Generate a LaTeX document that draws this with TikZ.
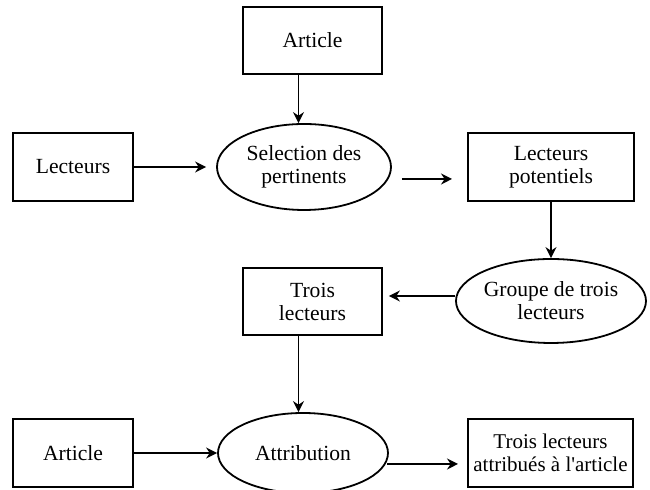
\documentclass[tikz,border=0pt]{standalone}
\usepackage{fontspec}
\setmainfont{Liberation Serif}
\usetikzlibrary{shapes.geometric,arrows.meta}

\tikzset{
    box/.style={draw, line width=0.9pt, rectangle, align=center, inner sep=0pt,
        minimum width=#1},
    box/.default=60pt,
    oval/.style={draw, line width=0.9pt, ellipse, align=center, inner sep=0pt},
    arr/.style={line width=0.85pt, -{Stealth[length=5.5pt,width=5.5pt,inset=1.8pt]}}
}

\begin{document}
\begin{tikzpicture}[x=0.5pt, y=-0.5pt,
    every node/.append style={font=\fontsize{10.8}{11.5}\selectfont}]
    \useasboundingbox (0,0) rectangle (650,490);

    % Top row
    \node[box=69.5pt, minimum height=33.5pt] (article1) at (312.5,40.5) {Article};
    \node[box=60pt, minimum height=34pt] (lecteurs) at (73,167) {Lecteurs};
    \node[oval, minimum width=87pt, minimum height=43pt] (selection) at (304,167)
        {Selection des\\pertinents};
    \node[box=83pt, minimum height=34pt] (potentiels) at (551,167)
        {Lecteurs\\potentiels};

    % Middle row
    \node[oval, minimum width=91pt, minimum height=42pt] (groupe) at (551,301)
        {Groupe de trois\\lecteurs};
    \node[box=69.5pt, minimum height=33.5pt] (trois) at (312.5,301.5)
        {Trois\\lecteurs};

    % Bottom row
    \node[box=60pt, minimum height=34pt] (article2) at (73,453) {Article};
    \node[oval, minimum width=85pt, minimum height=40pt] (attribution) at (303,453)
        {Attribution};
    \node[box=82.5pt, minimum height=34pt,
        font=\fontsize{10.5}{11.5}\selectfont] (attribues) at (550.5,453)
        {Trois lecteurs\\attribués à l\textquotesingle article};

    % Free ends of the horizontal arrows
    \coordinate (selout) at (402,179);
    \coordinate (potin) at (452,179);
    \coordinate (attrout) at (387,464);
    \coordinate (resin) at (458,464);

    % Connectors
    \draw[arr] ([xshift=-7pt]article1.south) -- ([xshift=-7pt]article1.south |- selection.north);
    \draw[arr] (lecteurs.east) -- ([xshift=-5pt]selection.west);
    \draw[arr] (selout) -- (potin);
    \draw[arr] (potentiels.south) -- (groupe.north);
    \draw[arr] ([yshift=2.5pt]groupe.west) -- ([xshift=3pt,yshift=2.5pt]groupe.west -| trois.east);
    \draw[arr] ([xshift=-7pt]trois.south) -- ([xshift=-7pt]trois.south |- attribution.north);
    \draw[arr] (article2.east) -- (attribution.west);
    \draw[arr] (attrout) -- (resin);
\end{tikzpicture}
\end{document}
